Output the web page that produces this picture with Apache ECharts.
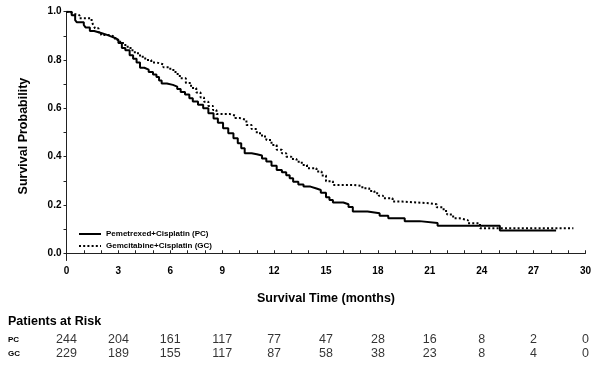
<!DOCTYPE html>
<html>
<head>
<meta charset="utf-8">
<script src="https://cdn.jsdelivr.net/npm/echarts@6/dist/echarts.min.js"></script>
<style>html,body{margin:0;padding:0;background:#fff}#c{width:600px;height:367px}</style>
</head>
<body>
<div id="c"></div>
<script>
// Kaplan-Meier step points [months, survival probability]
var pcCurve = [[0,1.0],[0.3,0.985],[0.5,0.965],[0.6,0.956],[1.0,0.945],[1.1,0.935],[1.35,0.92],[1.6,0.912],[2.0,0.905],[2.3,0.897],[2.6,0.89],[2.85,0.883],[3.0,0.87],[3.2,0.85],[3.4,0.84],[3.65,0.82],[3.85,0.805],[4.05,0.79],[4.25,0.768],[4.5,0.76],[4.75,0.75],[5.0,0.74],[5.2,0.73],[5.35,0.715],[5.5,0.703],[5.8,0.697],[6.15,0.69],[6.4,0.68],[6.6,0.668],[6.85,0.657],[7.1,0.642],[7.3,0.628],[7.6,0.615],[7.9,0.6],[8.2,0.58],[8.5,0.558],[8.75,0.54],[9.05,0.518],[9.35,0.497],[9.65,0.476],[9.9,0.455],[10.1,0.435],[10.3,0.414],[10.7,0.41],[11.0,0.405],[11.3,0.392],[11.55,0.38],[11.85,0.362],[12.15,0.345],[12.45,0.335],[12.7,0.323],[12.9,0.31],[13.1,0.296],[13.4,0.285],[13.7,0.276],[14.1,0.268],[14.45,0.262],[14.7,0.25],[15.0,0.232],[15.2,0.22],[15.4,0.21],[16.0,0.203],[16.3,0.192],[16.55,0.173],[17.4,0.166],[18.1,0.155],[18.6,0.145],[19.55,0.133],[20.4,0.125],[21.45,0.114],[25.05,0.094],[28.3,0.094]];
var gcCurve = [[0,1.0],[0.2,0.992],[0.4,0.985],[0.75,0.973],[1.45,0.959],[1.55,0.945],[1.65,0.931],[1.85,0.915],[2.0,0.904],[2.4,0.897],[2.8,0.883],[3.1,0.87],[3.4,0.855],[3.7,0.84],[3.95,0.828],[4.25,0.813],[4.55,0.8],[4.9,0.79],[5.2,0.782],[5.6,0.77],[6.0,0.759],[6.3,0.742],[6.55,0.724],[6.9,0.705],[7.2,0.684],[7.5,0.665],[7.75,0.645],[7.95,0.627],[8.2,0.61],[8.47,0.593],[8.67,0.576],[9.45,0.57],[9.75,0.56],[10.0,0.552],[10.4,0.531],[10.7,0.514],[11.0,0.497],[11.3,0.483],[11.55,0.469],[11.85,0.448],[12.15,0.428],[12.45,0.414],[12.7,0.4],[13.0,0.39],[13.3,0.379],[13.6,0.365],[13.9,0.352],[14.45,0.338],[14.75,0.322],[15.0,0.298],[15.4,0.283],[16.55,0.279],[17.1,0.269],[17.5,0.258],[17.8,0.248],[18.05,0.238],[18.3,0.228],[18.85,0.214],[19.4,0.207],[21.0,0.203],[21.4,0.19],[21.8,0.175],[22.0,0.16],[22.35,0.145],[22.7,0.137],[23.2,0.124],[23.9,0.103],[29.3,0.103]];

var seriesNames = ['Pemetrexed+Cisplatin (PC)', 'Gemcitabine+Cisplatin (GC)'];
var riskGroups = ['PC', 'GC'];
var riskTimes = [0, 3, 6, 9, 12, 15, 18, 21, 24, 27, 30];
var pcRisk = [244, 204, 161, 117, 77, 47, 28, 16, 8, 2, 0];
var gcRisk = [229, 189, 155, 117, 87, 58, 38, 23, 8, 4, 0];
var yLabelValues = [0, 0.2, 0.4, 0.6, 0.8, 1.0];
var yTickValues = [0, 0.1, 0.2, 0.3, 0.4, 0.5, 0.6, 0.7, 0.8, 0.9, 1.0];

var FONT = 'Liberation Sans, Arial, sans-serif';
var chart = echarts.init(document.getElementById('c'), null, {renderer: 'canvas'});

function riskData(vals, row) {
  return riskTimes.map(function (t, i) { return [t, row, vals[i]]; });
}

chart.setOption({
  animation: false,
  backgroundColor: '#fff',
  grid: [
    {left: 66.5, right: 14.5, top: 11.7, bottom: 106.5},
    {left: 66.5, right: 14.5, top: 333, height: 28}
  ],
  legend: {
    orient: 'vertical', left: 73, top: 225, itemGap: 4,
    itemWidth: 22, itemHeight: 8,
    itemStyle: {color: 'rgba(0,0,0,0)', borderColor: 'rgba(0,0,0,0)', borderWidth: 0},
    textStyle: {fontFamily: FONT, fontWeight: 'bold', fontSize: 8, color: '#000'},
    data: seriesNames
  },
  graphic: [
    {type: 'text', left: 8, top: 315, style: {text: 'Patients at Risk', fontFamily: FONT, fontWeight: 'bold', fontSize: 12.5, fill: '#000'}}
  ],
  xAxis: [
    {
      gridIndex: 0, type: 'value', min: 0, max: 30, interval: 3,
      name: 'Survival Time (months)', nameLocation: 'middle', nameGap: 32,
      nameTextStyle: {fontFamily: FONT, fontWeight: 'bold', fontSize: 12.5, color: '#000'},
      axisLine: {show: true, lineStyle: {color: '#222', width: 1}},
      axisTick: {show: true, inside: true, length: 3, lineStyle: {color: '#222'}},
      minorTick: {show: true, splitNumber: 3, length: 3, lineStyle: {color: '#222'}},
      splitLine: {show: false},
      axisLabel: {fontFamily: FONT, fontWeight: 'bold', fontSize: 10, color: '#000', margin: 6}
    },
    {
      gridIndex: 1, type: 'value', min: 0, max: 30, show: false
    }
  ],
  yAxis: [
    {
      gridIndex: 0, type: 'value', min: -0.03, max: 1.0,
      name: 'Survival Probability', nameLocation: 'middle', nameGap: 36, nameRotate: 90,
      nameTextStyle: {fontFamily: FONT, fontWeight: 'bold', fontSize: 12.5, color: '#000'},
      axisLine: {show: true, lineStyle: {color: '#222', width: 1}},
      axisTick: {show: true, length: 3, customValues: yTickValues, lineStyle: {color: '#222'}},
      splitLine: {show: false},
      axisLabel: {
        customValues: yLabelValues, margin: 5,
        fontFamily: FONT, fontWeight: 'bold', fontSize: 10, color: '#000',
        formatter: function (v) { return v.toFixed(1); }
      }
    },
    {
      gridIndex: 1, type: 'category', data: riskGroups, inverse: true,
      axisLine: {show: false}, axisTick: {show: false}, splitLine: {show: false},
      axisLabel: {align: 'left', margin: 58.5, fontFamily: FONT, fontWeight: 'bold', fontSize: 8, color: '#000'}
    }
  ],
  series: [
    {
      name: seriesNames[0], type: 'line', step: 'end', xAxisIndex: 0, yAxisIndex: 0,
      data: pcCurve, showSymbol: false, symbol: 'none',
      lineStyle: {color: '#000', width: 2, type: 'solid'}, itemStyle: {color: '#000'}
    },
    {
      name: seriesNames[1], type: 'line', step: 'end', xAxisIndex: 0, yAxisIndex: 0,
      data: gcCurve, showSymbol: false, symbol: 'none',
      lineStyle: {color: '#000', width: 2, type: [2, 2.2]}, itemStyle: {color: '#000'}
    },
    {
      type: 'scatter', xAxisIndex: 1, yAxisIndex: 1, symbolSize: 0,
      data: riskData(pcRisk, 0),
      label: {show: true, position: 'inside', formatter: function (p) { return p.value[2]; },
        fontFamily: FONT, fontSize: 12.5, color: '#000'}
    },
    {
      type: 'scatter', xAxisIndex: 1, yAxisIndex: 1, symbolSize: 0,
      data: riskData(gcRisk, 1),
      label: {show: true, position: 'inside', formatter: function (p) { return p.value[2]; },
        fontFamily: FONT, fontSize: 12.5, color: '#000'}
    }
  ]
});
</script>
</body>
</html>
